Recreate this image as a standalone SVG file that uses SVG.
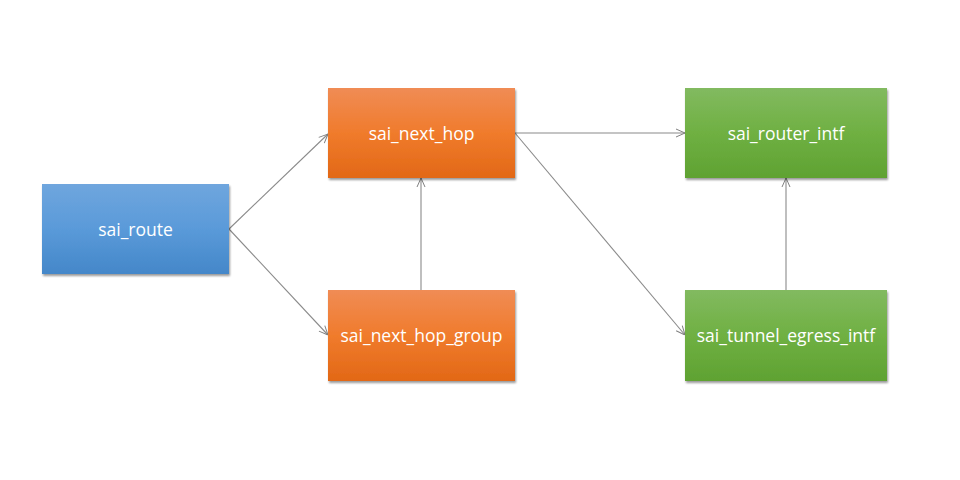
<svg xmlns="http://www.w3.org/2000/svg" width="960" height="480" viewBox="0 0 960 480">
<defs>
<linearGradient id="gBlue" x1="0" y1="0" x2="0" y2="1"><stop offset="0" stop-color="#6fa6de"/><stop offset="0.5" stop-color="#5a9ad9"/><stop offset="1" stop-color="#4487c9"/></linearGradient>
<linearGradient id="gOrange" x1="0" y1="0" x2="0" y2="1"><stop offset="0" stop-color="#f08c55"/><stop offset="0.5" stop-color="#f07b2c"/><stop offset="1" stop-color="#e26816"/></linearGradient>
<linearGradient id="gGreen" x1="0" y1="0" x2="0" y2="1"><stop offset="0" stop-color="#82ba60"/><stop offset="0.5" stop-color="#6fb042"/><stop offset="1" stop-color="#5fa232"/></linearGradient>
<filter id="sh" x="-10%" y="-10%" width="125%" height="130%"><feGaussianBlur in="SourceAlpha" stdDeviation="1.2"/><feOffset dx="1" dy="2" result="b"/><feComponentTransfer><feFuncA type="linear" slope="0.4"/></feComponentTransfer><feMerge><feMergeNode/><feMergeNode in="SourceGraphic"/></feMerge></filter>
<marker id="arr" viewBox="0 0 10 10" refX="10" refY="5" markerWidth="10" markerHeight="10" markerUnits="userSpaceOnUse" orient="auto"><path d="M1,1 L10,5 L1,9" fill="none" stroke="#808080" stroke-width="1"/></marker>
</defs>
<style>
.lbl{font-family:"Open Sans","Liberation Sans",sans-serif;font-size:17.5px;fill:#ffffff;text-anchor:middle;dominant-baseline:central}
.edge{stroke:#8a8a8a;stroke-width:1.1;fill:none;marker-end:url(#arr)}
</style>
<rect width="960" height="480" fill="#ffffff"/>
<g id="connectors">
<line class="edge" x1="229" y1="229" x2="328" y2="134"/>
<line class="edge" x1="229" y1="229" x2="328" y2="335"/>
<line class="edge" x1="515" y1="133" x2="685" y2="133"/>
<line class="edge" x1="515" y1="133" x2="685" y2="335"/>
<line class="edge" x1="421" y1="290" x2="421" y2="178"/>
<line class="edge" x1="786" y1="290" x2="786" y2="178"/>
</g>
<g id="sai_route"><rect x="42" y="184" width="187" height="90" fill="url(#gBlue)" filter="url(#sh)"/><text class="lbl" x="135.5" y="229">sai_route</text></g>
<g id="sai_next_hop"><rect x="328" y="88" width="187" height="90" fill="url(#gOrange)" filter="url(#sh)"/><text class="lbl" x="421.5" y="133">sai_next_hop</text></g>
<g id="sai_next_hop_group"><rect x="328" y="290" width="187" height="91" fill="url(#gOrange)" filter="url(#sh)"/><text class="lbl" x="421.5" y="335">sai_next_hop_group</text></g>
<g id="sai_router_intf"><rect x="685" y="88" width="202" height="90" fill="url(#gGreen)" filter="url(#sh)"/><text class="lbl" x="786" y="133">sai_router_intf</text></g>
<g id="sai_tunnel_egress_intf"><rect x="685" y="290" width="202" height="91" fill="url(#gGreen)" filter="url(#sh)"/><text class="lbl" x="786" y="335">sai_tunnel_egress_intf</text></g>
</svg>
